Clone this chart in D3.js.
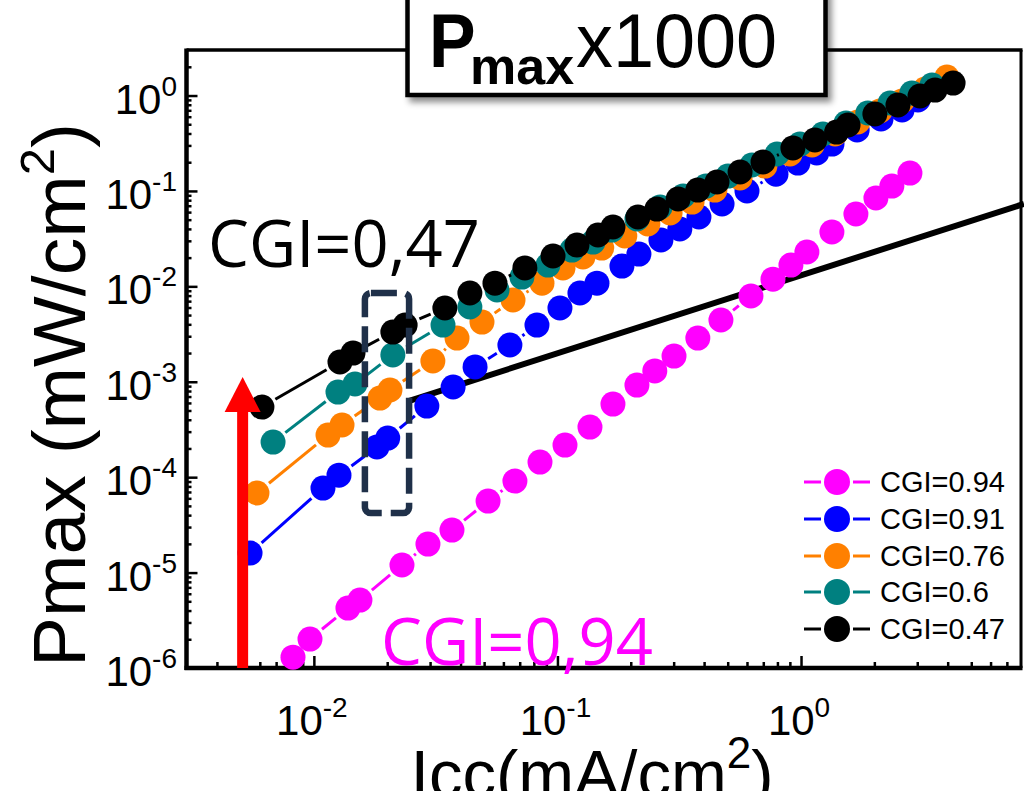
<!DOCTYPE html>
<html><head><meta charset="utf-8">
<script src="https://cdn.jsdelivr.net/npm/d3@7"></script>
<style>body{margin:0;background:#fff} svg{display:block}</style>
</head><body>
<svg id="c" width="1024" height="791"></svg>
<script>
// ---------- data ----------
const seriesNames  = ["CGI=0.94","CGI=0.91","CGI=0.76","CGI=0.6","CGI=0.47"];
const seriesColors = ["#ff00ff","#0000ff","#ff8000","#008080","#000000"];

const icc094  = [0.00821,0.00964,0.0138,0.01546,0.0230,0.0294,0.0369,0.0519,0.0669,0.0848,0.1074,0.136,0.169,0.212,0.251,0.301,0.377,0.469,0.623,0.767,0.909,1.057,1.339,1.68,2.03,2.36,2.80];
const pmax094 = [1.30e-6,2.01e-6,4.25e-6,5.15e-6,1.20e-5,1.99e-5,2.79e-5,5.62e-5,9.1e-5,1.44e-4,2.17e-4,3.35e-4,5.84e-4,9.24e-4,1.30e-3,1.86e-3,2.87e-3,4.44e-3,7.92e-3,1.19e-2,1.67e-2,2.29e-2,3.71e-2,5.73e-2,8.43e-2,0.1125,0.154];

const icc091  = [0.00547,0.0109,0.01268,0.01816,0.0201,0.0291,0.0373,0.0459,0.0638,0.0824,0.1024,0.1237,0.1453,0.184,0.216,0.266,0.318,0.381,0.474,0.600,0.789,0.971,1.16,1.34,1.70,2.13,2.60,3.02,3.48];
const pmax091 = [1.60e-5,7.69e-5,1.05e-4,2.07e-4,2.57e-4,5.56e-4,8.81e-4,1.43e-3,2.43e-3,3.93e-3,5.93e-3,8.51e-3,1.08e-2,1.63e-2,2.18e-2,3.06e-2,3.99e-2,5.33e-2,7.29e-2,9.98e-2,0.150,0.196,0.250,0.310,0.435,0.567,0.705,0.897,1.17];

const icc076  = [0.00584,0.01143,0.01305,0.01868,0.02053,0.0308,0.0387,0.0490,0.0657,0.0864,0.1054,0.1273,0.152,0.189,0.235,0.290,0.357,0.443,0.562,0.711,0.901,1.11,1.38,1.71,2.11,2.60,3.23,3.97];
const pmax076 = [6.82e-5,2.76e-4,3.52e-4,6.75e-4,8.19e-4,1.65e-3,2.87e-3,4.22e-3,7.19e-3,1.08e-2,1.56e-2,2.03e-2,2.52e-2,3.37e-2,4.50e-2,5.87e-2,7.65e-2,0.102,0.137,0.182,0.244,0.303,0.395,0.528,0.688,0.876,1.17,1.56];

const icc060  = [0.00680,0.01256,0.01475,0.0211,0.0339,0.0437,0.0565,0.0715,0.0914,0.1147,0.140,0.167,0.212,0.264,0.328,0.407,0.501,0.629,0.797,0.990,1.23,1.53,1.88,2.32,2.85,3.45];
const pmax060 = [2.33e-4,7.80e-4,9.47e-4,1.91e-3,3.93e-3,6.07e-3,9.15e-3,1.25e-2,1.67e-2,2.40e-2,2.91e-2,3.89e-2,5.08e-2,6.78e-2,8.85e-2,0.1125,0.143,0.187,0.244,0.310,0.395,0.515,0.656,0.835,1.06,1.29];

const icc047  = [0.00612,0.0128,0.01448,0.0211,0.0237,0.0345,0.0437,0.0554,0.0735,0.0959,0.1203,0.1467,0.169,0.214,0.256,0.313,0.377,0.452,0.562,0.698,0.926,1.14,1.40,1.56,2.01,2.50,3.08,3.55,4.21];
const pmax047 = [5.43e-4,1.61e-3,2.00e-3,3.32e-3,3.93e-3,5.93e-3,8.51e-3,1.08e-2,1.56e-2,2.08e-2,2.71e-2,3.45e-2,4.19e-2,5.33e-2,6.46e-2,8.23e-2,0.102,0.124,0.158,0.201,0.282,0.342,0.414,0.491,0.640,0.795,0.989,1.14,1.35];

const xTickValues = [0.01, 0.1, 1];
const xTickExps   = ["-2", "-1", "0"];
const yTickValues = [1e-6,1e-5,1e-4,1e-3,1e-2,1e-1,1];
const yTickExps   = ["-6","-5","-4","-3","-2","-1","0"];

const refLineX = [0.0241, 8];
const refLineY = [6.2e-4, 0.0731];
const arrowX = 0.0051, arrowFromY = 1e-6, arrowToY = 1.12e-3;
const boxX = [0.0162, 0.0246], boxY = [4.2e-5, 8.51e-3];

const iccSeries  = [icc094, icc091, icc076, icc060, icc047];
const pmaxSeries = [pmax094, pmax091, pmax076, pmax060, pmax047];

// ---------- drawing ----------
const svg = d3.select("#c");
const FONT = "'Liberation Sans', Arial, sans-serif";
const L = 186.5, R = 1021, T = 50, B = 668;
const x = d3.scaleLog().domain([0.003, 8]).range([L, R]);
const y = d3.scaleLog().domain([1e-6, 3]).range([B, T]);

const defs = svg.append("defs");
const f = defs.append("filter").attr("id","sh").attr("x","-10%").attr("y","-10%").attr("width","130%").attr("height","140%");
f.append("feDropShadow").attr("dx",4).attr("dy",5).attr("stdDeviation",3).attr("flood-color","#000").attr("flood-opacity",0.45);

function minors(lo, hi){ const out=[]; for(let e=-7;e<=1;e++){ for(let k=2;k<=9;k++){ const v=k*Math.pow(10,e); if(v>lo*1.0001 && v<hi*0.9999) out.push(v);} } return out; }

// axes ticks (inward)
const gx = svg.append("g").attr("transform",`translate(0,${B})`);
gx.call(d3.axisBottom(x).tickValues(xTickValues).tickSize(-12).tickFormat(""));
gx.append("g").call(d3.axisBottom(x).tickValues(minors(0.003,8)).tickSize(-6).tickFormat(""));
gx.selectAll(".domain").remove();
gx.selectAll("line").attr("stroke","#000").attr("stroke-width",2.5);

const gy = svg.append("g").attr("transform",`translate(${L},0)`);
gy.call(d3.axisLeft(y).tickValues(yTickValues).tickSize(-11).tickFormat(""));
gy.append("g").call(d3.axisLeft(y).tickValues(minors(1e-6,3)).tickSize(-5).tickFormat(""));
gy.selectAll(".domain").remove();
gy.selectAll("line").attr("stroke","#000").attr("stroke-width",2.5);

// frame
svg.append("line").attr("x1",L).attr("x2",R+1.5).attr("y1",T).attr("y2",T).attr("stroke","#000").attr("stroke-width",3.5);
svg.append("line").attr("x1",R).attr("x2",R).attr("y1",T).attr("y2",B).attr("stroke","#000").attr("stroke-width",3);
svg.append("line").attr("x1",L).attr("x2",L).attr("y1",T-1.5).attr("y2",B+2).attr("stroke","#000").attr("stroke-width",4.5);
svg.append("line").attr("x1",L-2).attr("x2",R+1.5).attr("y1",B).attr("y2",B).attr("stroke","#000").attr("stroke-width",4.5);

// tick labels
xTickValues.forEach((v,i)=>{
  const t = svg.append("text").attr("x",x(v)-2).attr("y",735).attr("text-anchor","middle")
    .attr("font-family",FONT).attr("font-size",42).text("10");
  t.append("tspan").attr("dy",-18).attr("font-size",28).text(xTickExps[i]);
});
yTickValues.forEach((v,i)=>{
  const t = svg.append("text").attr("x",177).attr("y",y(v)+18).attr("text-anchor","end")
    .attr("font-family",FONT).attr("font-size",42).text("10");
  t.append("tspan").attr("dy",-18).attr("font-size",28).text(yTickExps[i]);
});

// axis titles
const xt = svg.append("text").attr("x",592).attr("y",797).attr("text-anchor","middle")
  .attr("font-family",FONT).attr("font-size",67).text("Icc(mA/cm");
xt.append("tspan").attr("dy",-29).attr("font-size",44).text("2");
xt.append("tspan").attr("dy",29).text(")");

const yt = svg.append("text").attr("transform","translate(85,395) rotate(-90)").attr("text-anchor","middle")
  .attr("font-family",FONT).attr("font-size",75).text("Pmax (mW/cm");
yt.append("tspan").attr("dy",-31).attr("font-size",49).text("2");
yt.append("tspan").attr("dy",31).text(")");

// reference thick line
svg.append("line").attr("x1",x(refLineX[0])).attr("y1",y(refLineY[0])).attr("x2",x(refLineX[1])+3).attr("y2",y(refLineY[1]))
  .attr("stroke","#000").attr("stroke-width",6);

// series
const R0 = 12.5, GAP = R0 + 3;
iccSeries.forEach((xs,si)=>{
  const ys = pmaxSeries[si], col = seriesColors[si];
  const g = svg.append("g");
  const pts = xs.map((v,i)=>[x(v), y(ys[i])]);
  for(let i=0;i<pts.length-1;i++){
    const [x0,y0]=pts[i],[x1,y1]=pts[i+1];
    const d=Math.hypot(x1-x0,y1-y0); if(d<=2*GAP+2) continue;
    const ux=(x1-x0)/d, uy=(y1-y0)/d;
    g.append("line").attr("x1",x0+ux*GAP).attr("y1",y0+uy*GAP).attr("x2",x1-ux*GAP).attr("y2",y1-uy*GAP)
      .attr("stroke",col).attr("stroke-width",3);
  }
  g.selectAll("circle").data(pts).join("circle").attr("cx",d=>d[0]).attr("cy",d=>d[1]).attr("r",R0).attr("fill",col);
});

// red arrow
const ax = x(arrowX), ayTop = y(arrowToY);
svg.append("line").attr("x1",ax).attr("x2",ax).attr("y1",y(arrowFromY)).attr("y2",ayTop+30).attr("stroke","#ff0000").attr("stroke-width",11);
svg.append("path").attr("d",`M${ax-18},${ayTop+35} L${ax},${ayTop} L${ax+18},${ayTop+35} Z`).attr("fill","#ff0000");

// dashed box
svg.append("rect").attr("x",x(boxX[0])).attr("y",y(boxY[1])).attr("width",x(boxX[1])-x(boxX[0])).attr("height",y(boxY[0])-y(boxY[1]))
  .attr("rx",6).attr("fill","none").attr("stroke","#1f3049").attr("stroke-width",6.5).attr("stroke-dasharray","26,9");

// annotations
svg.append("text").attr("x",208).attr("y",267).attr("font-family","'Open Sans', sans-serif").attr("font-size",65).attr("fill","#000").text("CGI=0,47");
svg.append("text").attr("x",381).attr("y",665).attr("font-family","'Open Sans', sans-serif").attr("font-size",65).attr("fill","#ff00ff").text("CGI=0,94");

// legend
const legY = [482, 519, 556, 592, 629];
seriesNames.forEach((n,i)=>{
  const g = svg.append("g").attr("transform",`translate(0,${legY[i]})`);
  g.append("line").attr("x1",804).attr("x2",821).attr("y1",0).attr("y2",0).attr("stroke",seriesColors[i]).attr("stroke-width",3);
  g.append("line").attr("x1",853).attr("x2",870).attr("y1",0).attr("y2",0).attr("stroke",seriesColors[i]).attr("stroke-width",3);
  g.append("circle").attr("cx",837).attr("cy",0).attr("r",13).attr("fill",seriesColors[i]);
  g.append("text").attr("x",880).attr("y",10).attr("font-family",FONT).attr("font-size",29).text(n);
});

// title box
svg.append("rect").attr("x",407.5).attr("y",-10).attr("width",418).attr("height",105)
  .attr("fill","#fff").attr("stroke","#000").attr("stroke-width",4.5).attr("filter","url(#sh)");
svg.append("text").attr("transform","translate(429,67) scale(0.92,1)").attr("font-family",FONT).attr("font-weight","bold").attr("font-size",76).text("P");
svg.append("text").attr("x",470).attr("y",84).attr("font-family",FONT).attr("font-weight","bold").attr("font-size",52).text("max");
svg.append("text").attr("transform","translate(576,67) scale(1.04,1.08)").attr("font-family",FONT).attr("font-size",71).text("x1000");
</script>
</body></html>
